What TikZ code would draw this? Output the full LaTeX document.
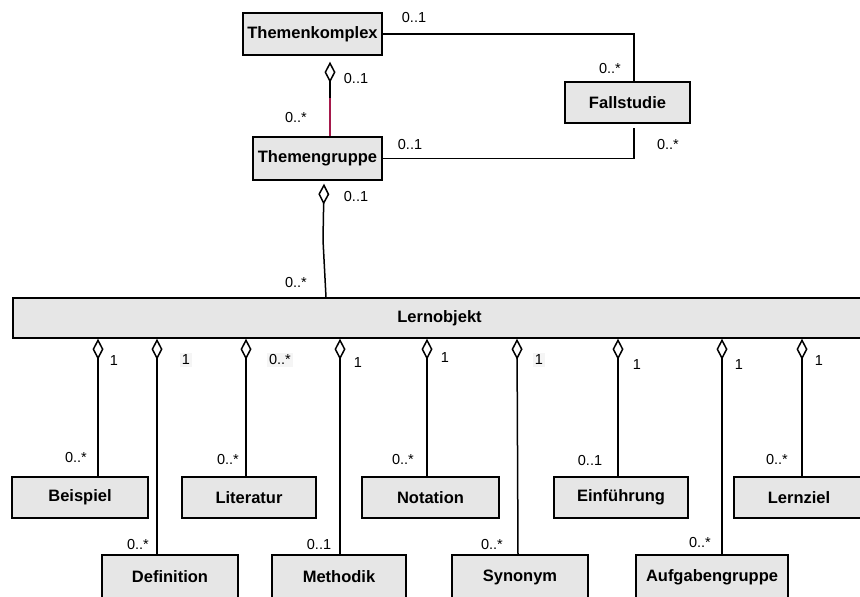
\documentclass[tikz,border=0pt]{standalone}
\usepackage{fontspec}
\setmainfont{Liberation Sans}
\usetikzlibrary{arrows.meta}
\definecolor{boxfill}{RGB}{230,230,230}
\definecolor{assoc}{RGB}{165,25,75}
\definecolor{labelbg}{RGB}{245,245,245}
\tikzset{
  cls/.style={draw, line width=1.4pt, fill=boxfill, inner sep=0pt,
    font=\fontsize{16.5}{18}\selectfont\bfseries},
  link/.style={line width=1.5pt},
  agg/.style={link, {Diamond[open, length=21pt, width=11pt, line width=1.5pt]}-},
  mult/.style={inner sep=1pt, font=\fontsize{14.5}{16}\selectfont},
  multbg/.style={mult, fill=labelbg, inner sep=2pt}
}
\begin{document}
\begin{tikzpicture}[x=1pt, y=-1pt]
\useasboundingbox (0,0) rectangle (860,597);
\clip (0,0) rectangle (860,597);

% classes
\node[cls, minimum width=139, minimum height=42] (tk) at (312.5,34) {Themenkomplex};
\node[cls, minimum width=125, minimum height=41] (fs) at (627.5,102.5) {Fallstudie};
\node[cls, minimum width=129, minimum height=43] (tg) at (317.5,158.5) {Themengruppe};
\node[cls, minimum width=853, minimum height=40] (lo) at (439.5,318) {Lernobjekt};

\node[cls, minimum width=136, minimum height=41] (bsp) at (80,497.5) {Beispiel};
\node[cls, minimum width=134, minimum height=41] (lit) at (249,497.5) {Literatur};
\node[cls, minimum width=137, minimum height=41] (not) at (430.5,497.5) {Notation};
\node[cls, minimum width=134, minimum height=41] (ein) at (621,497.5) {Einführung};
\node[cls, minimum width=130, minimum height=41] (lz) at (799,497.5) {Lernziel};

\node[cls, minimum width=136, minimum height=44] (def) at (170,577) {Definition};
\node[cls, minimum width=134, minimum height=44] (met) at (339,577) {Methodik};
\node[cls, minimum width=136, minimum height=44] (syn) at (520,577) {Synonym};
\node[cls, minimum width=152, minimum height=44] (auf) at (712,577) {Aufgabengruppe};

% associations at the top
\coordinate (fsx) at (634,0);
\draw[link] (tk.east) -| (fs.north -| fsx);
\draw[link] (tg.east) -| ([yshift=-4pt]fs.south -| fsx);

\coordinate (tkx) at (330,0);
\coordinate (bend) at (330,98);
\draw[agg] ([yshift=-6pt]tk.south -| tkx) -- (bend);
\draw[link, assoc] (bend) -- (tg.north -| tkx);

\coordinate (tgx) at (324,0);
\coordinate (tgmid) at (323,240);
\coordinate (lox) at (326,0);
\draw[agg] ([yshift=-3pt]tg.south -| tgx) -- (tgmid) -- (lo.north -| lox);

% aggregations below Lernobjekt
\foreach \nm/\xx in {bsp/98, def/157, lit/246, met/340, not/427, ein/618, auf/722, lz/802}{
  \coordinate (x-\nm) at (\xx,0);
  \draw[agg] (lo.south -| x-\nm) -- (\nm.north -| x-\nm);
}
\coordinate (x-syn1) at (517,0);
\coordinate (x-syn2) at (518,0);
\draw[agg] (lo.south -| x-syn1) -- (syn.north -| x-syn2);

% multiplicities
\node[mult] (m1) at (414,18) {0..1};
\node[mult] (m2) at (610,69) {0..*};
\node[mult] (m3) at (356,79) {0..1};
\node[mult] (m4) at (296,118) {0..*};
\node[mult] (m5) at (410,145) {0..1};
\node[mult] (m6) at (668,145) {0..*};
\node[mult] (m7) at (356,197) {0..1};
\node[mult] (m8) at (296,283) {0..*};

\node[mult] (n1) at (114,361) {1};
\node[multbg] (n2) at (186,360) {1};
\node[multbg] (n3) at (280,360) {0..*};
\node[mult] (n4) at (358,363) {1};
\node[mult] (n5) at (445,358) {1};
\node[multbg] (n6) at (539,360) {1};
\node[mult] (n7) at (637,365) {1};
\node[mult] (n8) at (739,365) {1};
\node[mult] (n9) at (819,361) {1};

\node[mult] (k1) at (76,458) {0..*};
\node[mult] (k2) at (228,460) {0..*};
\node[mult] (k3) at (403,460) {0..*};
\node[mult] (k4) at (590,461) {0..1};
\node[mult] (k5) at (777,460) {0..*};
\node[mult] (k6) at (138,545) {0..*};
\node[mult] (k7) at (319,545) {0..1};
\node[mult] (k8) at (492,545) {0..*};
\node[mult] (k9) at (700,543) {0..*};
\end{tikzpicture}
\end{document}
